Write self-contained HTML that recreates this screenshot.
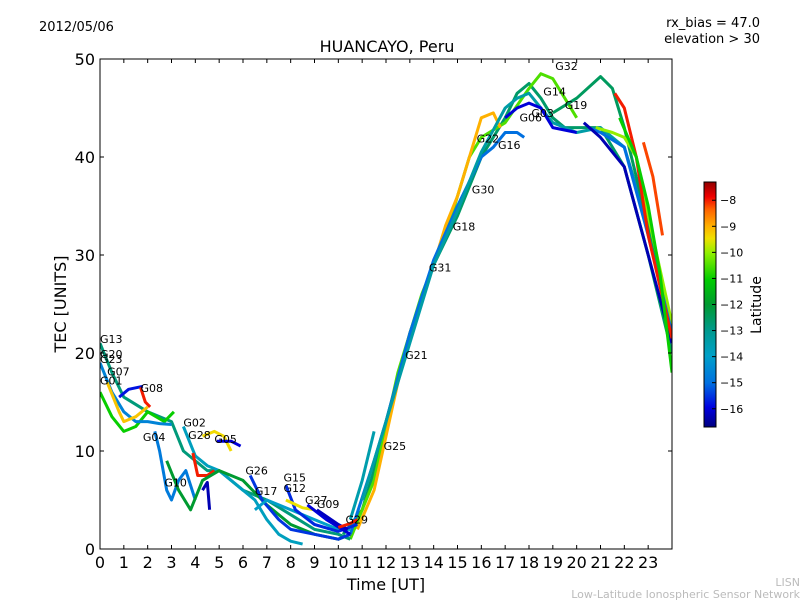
<!DOCTYPE html>
<html><head><meta charset="utf-8"><style>
body{margin:0;background:#fff;}
svg{display:block;font-family:"DejaVu Sans","Liberation Sans",sans-serif;}
</style></head><body>
<svg id="chart" width="800" height="600">
<defs>
<linearGradient id="jet" x1="0" y1="1" x2="0" y2="0">
<stop offset="0" stop-color="#000080"/><stop offset="0.08" stop-color="#0000e0"/><stop offset="0.18" stop-color="#0070e0"/><stop offset="0.29" stop-color="#00a0c8"/><stop offset="0.39" stop-color="#009a90"/><stop offset="0.5" stop-color="#009a30"/><stop offset="0.6" stop-color="#00cc00"/><stop offset="0.71" stop-color="#90f000"/><stop offset="0.77" stop-color="#f0e000"/><stop offset="0.82" stop-color="#ffb000"/><stop offset="0.89" stop-color="#ff6000"/><stop offset="0.94" stop-color="#f00000"/><stop offset="1" stop-color="#900000"/>
</linearGradient>
<clipPath id="plotclip"><rect x="100" y="59" width="572" height="490"/></clipPath>
</defs>
<text x="39" y="31" font-size="13">2012/05/06</text>
<text x="760" y="27" font-size="13" text-anchor="end">rx_bias = 47.0</text>
<text x="760" y="43" font-size="13" text-anchor="end">elevation &gt; 30</text>
<text x="387" y="52" font-size="16" text-anchor="middle">HUANCAYO, Peru</text>
<g id="tracks" clip-path="url(#plotclip)"></g>
<g id="labels"></g>
<rect x="100" y="59" width="572" height="490" fill="none" stroke="#000" stroke-width="1"/>
<g id="axes"></g>
<text x="386" y="590" font-size="16" text-anchor="middle">Time [UT]</text>
<text x="66" y="304" font-size="16" text-anchor="middle" transform="rotate(-90 66 304)">TEC [UNITS]</text>
<rect x="704" y="182" width="12" height="245" fill="url(#jet)" stroke="#000" stroke-width="1"/>
<g id="cbticks"></g>
<text x="761" y="305" font-size="14" text-anchor="middle" transform="rotate(-90 761 305)">Latitude</text>
<text x="800" y="586" font-size="11" fill="#bbb" text-anchor="end">LISN</text>
<text x="800" y="598" font-size="11" fill="#bbb" text-anchor="end">Low-Latitude Ionospheric Sensor Network</text>
</svg>
<script>
const xTicks=[0,1,2,3,4,5,6,7,8,9,10,11,12,13,14,15,16,17,18,19,20,21,22,23];
const yTicks=[0,10,20,30,40,50];
const cbTicks=[-8,-9,-10,-11,-12,-13,-14,-15,-16];
const trackNames=["T1","T2","T3","T4","T5","T6","T7","T8","T9","T10","T11","T12","T13","M1","M2","M3","M4","M5","M6","G04","G02","G28","G28b","G05","G10","NZ","G26","G17","G15","G12","G27","G09","G29","G25"];
const trackLats=[-12.6,-10.5,-9,-15,-13.4,-16,-12.5,-10,-15,-16.3,-8,-11,-8.2,-12.8,-11,-14.6,-15.8,-8,-9.2,-14.8,-13.8,-8,-9.4,-16,-16.3,-12,-15.5,-14,-15.6,-9.5,-16,-16.2,-8,-13.5];
const trackPoints=[
[[10.2,1.5],[11,4],[11.5,8],[12,13],[13,22],[14,29],[15,34],[16,40],[17,44],[17.5,46.5],[18,47.5],[18.5,46],[19,44],[19.5,43],[20,43],[21,43],[22,39],[23,30],[24,20]],
[[10.5,1],[11.5,7],[12.5,18],[13.5,26],[14.5,32],[15.5,40],[16,42],[17,43.5],[18,47],[18.5,48.5],[19,48],[19.5,46],[20,44]],
[[10.8,2],[11.5,6],[12.5,17],[13,22],[14,29],[14.5,33],[15,36],[15.5,40],[16,44],[16.5,44.5],[16.8,43]],
[[10.5,1.5],[11.5,9],[12,13],[13,22],[14,29.5],[15,35],[16,40],[16.5,41],[17,42.5],[17.5,42.5],[17.8,42]],
[[11,5],[12,13],[13,21],[14,29],[15,34.5],[16,40.5],[17,45],[17.5,46],[18,46.5],[18.5,45],[19,43.5],[19.5,43],[20,42.5],[21,43],[22,41],[23,33],[24,22]],
[[17,44],[17.5,45],[18,45.5],[18.5,45],[19,43],[20,42.5]],
[[19,44.5],[20,46],[21,48.2],[21.5,47],[22,43],[23,33],[24,21]],
[[20.8,43],[21.5,42.5],[22,42],[22.5,40],[23,34],[24,23]],
[[20.5,43],[21,42.5],[22,41],[23,32],[24,22]],
[[20.3,43.5],[21,42],[22,39],[23,30],[24,21]],
[[21.6,46.5],[22,45],[22.5,40],[23,32],[24,21.5]],
[[21.8,44],[22.5,40],[23,35],[23.5,28],[24,18]],
[[22.8,41.5],[23.2,38],[23.6,32]],
[[0,21],[0.5,18],[1,15.5],[2,14],[3,13],[3.5,10],[4.5,8],[5,8],[6,6],[7,5],[8,3.5],[9,2],[10,1.5],[10.5,1]],
[[0,16],[0.5,13.5],[1,12],[1.5,12.5],[2,14],[2.7,13],[3.1,14]],
[[0,19],[0.5,16],[1,14],[1.5,13],[2,13],[2.5,12.8],[3,12.7]],
[[0.8,15.5],[1.2,16.3],[1.8,16.6]],
[[1.7,16.5],[1.9,15],[2.1,14.5]],
[[0.3,17],[0.8,14],[1,13],[1.5,13.5],[2,14.5]],
[[2.3,12],[2.5,10],[2.8,6],[3,5],[3.3,7],[3.6,8],[4,5]],
[[3.5,12.5],[4,9.5],[4.5,8.5],[5,8],[5.5,7],[6,6],[6.5,5],[7,3],[7.5,1.5],[8,0.8],[8.5,0.5]],
[[3.9,9.8],[4.1,7.5],[4.5,7.5],[4.8,8]],
[[4.3,11.5],[4.8,12],[5.2,11.5],[5.5,10]],
[[4.9,11],[5.5,11],[5.9,10.5]],
[[4.3,6],[4.5,6.8],[4.6,4]],
[[2.8,9],[3.3,6],[3.8,4],[4.3,7],[5,8],[5.5,7.5],[6,7],[7,4.5],[8,2.5],[9,1.5],[10,1],[10.5,1.5]],
[[6.3,7.5],[6.8,5],[7.5,3],[8,2],[9,1.5],[10,1],[10.5,1.5]],
[[6.5,4],[7,5],[7.5,4.5],[8,4],[9,3],[10,2],[10.5,2]],
[[7.8,6.5],[8.2,4],[9,2.5],[10,1.8],[10.8,2.5]],
[[7.8,5],[8.5,4.2],[9,4]],
[[8.7,4.5],[9.5,3],[10.5,1.5]],
[[9.1,4],[10,2.5],[10.4,2]],
[[10,2.2],[10.5,2.6],[10.8,3]],
[[10.5,3],[11,7],[11.5,12]]
];
const labelNames=["G13","G20","G23","G07","G01","G08","G04","G02","G28","G05","G10","G26","G17","G15","G12","G27","G09","G29","G25","G21","G31","G18","G30","G22","G16","G06","G03","G14","G32","G19"];
const labelPos=[[0,21],[0,19.5],[0,19],[0.3,17.7],[0,16.8],[1.7,16],[1.8,11],[3.5,12.5],[3.7,11.2],[4.8,10.8],[2.7,6.4],[6.1,7.6],[6.5,5.5],[7.7,6.9],[7.7,5.8],[8.6,4.6],[9.1,4.2],[10.3,2.6],[11.9,10.1],[12.8,19.4],[13.8,28.3],[14.8,32.5],[15.6,36.3],[15.8,41.5],[16.7,40.8],[17.6,43.6],[18.1,44.1],[18.6,46.3],[19.1,48.9],[19.5,44.9]];
const X=t=>100+t*572/24, Y=v=>549-v*9.8;
const LMIN=-16.7,LMAX=-7.3;
const stops=[[0,[0,0,128]],[0.08,[0,0,224]],[0.18,[0,112,224]],[0.29,[0,160,200]],[0.39,[0,154,144]],[0.5,[0,154,48]],[0.6,[0,204,0]],[0.71,[144,240,0]],[0.77,[240,224,0]],[0.82,[255,176,0]],[0.89,[255,96,0]],[0.94,[240,0,0]],[1,[144,0,0]]];
function col(l){let f=(l-LMIN)/(LMAX-LMIN);f=Math.max(0,Math.min(1,f));for(let i=1;i<stops.length;i++){if(f<=stops[i][0]){const a=stops[i-1],b=stops[i],u=(f-a[0])/(b[0]-a[0]);return 'rgb('+a[1].map((c,k)=>Math.round(c+(b[1][k]-c)*u)).join(',')+')';}}return 'rgb(144,0,0)';}
const NS='http://www.w3.org/2000/svg';
const tg=document.getElementById('tracks');
trackPoints.forEach((pts,i)=>{const p=document.createElementNS(NS,'polyline');
p.setAttribute('points',pts.map(q=>X(q[0]).toFixed(1)+','+Y(q[1]).toFixed(1)).join(' '));
p.setAttribute('fill','none');p.setAttribute('stroke',col(trackLats[i]));p.setAttribute('stroke-width','3');p.setAttribute('stroke-linejoin','round');


tg.appendChild(p);});
const lg=document.getElementById('labels');
labelNames.forEach((n,i)=>{const t=document.createElementNS(NS,'text');
t.setAttribute('x',X(labelPos[i][0]));t.setAttribute('y',Y(labelPos[i][1]));t.setAttribute('font-size','11');t.textContent=n;


lg.appendChild(t);});
const ax=document.getElementById('axes');
function ln(x1,y1,x2,y2,par){const l=document.createElementNS(NS,'line');l.setAttribute('x1',x1);l.setAttribute('y1',y1);l.setAttribute('x2',x2);l.setAttribute('y2',y2);l.setAttribute('stroke','#000');par.appendChild(l);return l;}
function tx(x,y,s,anchor,size,par){const t=document.createElementNS(NS,'text');t.setAttribute('x',x);t.setAttribute('y',y);t.setAttribute('text-anchor',anchor);t.setAttribute('font-size',size);t.textContent=s;par.appendChild(t);return t;}
xTicks.forEach(v=>{const x=X(v);
const a=ln(x,549,x,545,ax);

const b=ln(x,59,x,63,ax);

const t=tx(x,568,String(v),'middle',16,ax);
});
yTicks.forEach(v=>{const y=Y(v);
const a=ln(100,y,104,y,ax);

const b=ln(668,y,672,y,ax);

const t=tx(95,y+6,String(v),'end',16,ax);
});
const cb=document.getElementById('cbticks');
const CY=l=>182+(LMAX-l)/(LMAX-LMIN)*245;
cbTicks.forEach(v=>{const y=CY(v);
const a=ln(712,y,716,y,cb);

const t=tx(720,y+4,'\u2212'+Math.abs(v),'start',11,cb);
});
</script>
</body></html>
